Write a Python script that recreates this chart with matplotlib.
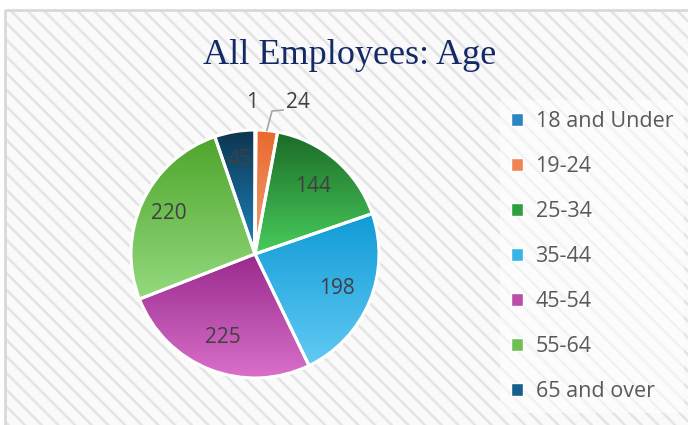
import numpy as np
import matplotlib.pyplot as plt
from matplotlib.patches import Rectangle, Patch
from matplotlib.colors import to_rgb

categories = ["18 and Under", "19-24", "25-34", "35-44", "45-54", "55-64", "65 and over"]
employees = [1, 24, 144, 198, 225, 220, 45]
# gradient colours per slice, top -> bottom
top_colors = ["#1b6fa6", "#e8692c", "#1c6b27", "#109bd6", "#982a8c", "#4ea52c", "#0d3550"]
bottom_colors = ["#4aa3dc", "#f2a27c", "#48cc5c", "#62caf4", "#da70ca", "#94da7e", "#1d86c0"]
legend_colors = ["#2a85c0", "#ee8550", "#2f9e3e", "#38b4e6", "#bb4caa", "#6fc054", "#15608c"]

plt.rcParams["hatch.linewidth"] = 1.8
W, H = 688, 425
fig = plt.figure(figsize=(W / 100, H / 100), dpi=100, facecolor="white")

# hatched chart area
bg = Rectangle((5 / W, 0), 1 - 5 / W, 1 - 10 / H, transform=fig.transFigure,
               facecolor="#fafafa", edgecolor="#e4e4e4", hatch="\\\\", linewidth=0, zorder=0)
fig.add_artist(bg)
fig.add_artist(plt.Line2D([5 / W, 5 / W, 1], [0, 1 - 10 / H, 1 - 10 / H], transform=fig.transFigure,
                          color="#d9d9d9", linewidth=2, zorder=1))

fig.text(350 / W, 1 - 55 / H, "All Employees: Age", ha="center", va="center",
         fontsize=26, family="Liberation Serif", color="#142a66")

cx, cy, r = 255, 254, 124
ax = fig.add_axes([(cx - r) / W, (H - cy - r) / H, 2 * r / W, 2 * r / H])
wedges, _ = ax.pie(employees, colors=legend_colors, startangle=90, counterclock=False,
                   wedgeprops=dict(edgecolor="white", linewidth=2.2))

for w, c0, c1 in zip(wedges, top_colors, bottom_colors):
    ext = w.get_path().get_extents()
    t = np.linspace(0, 1, 256)[:, None]
    grad = (1 - t) * np.array(to_rgb(c0)) + t * np.array(to_rgb(c1))
    im = ax.imshow(grad[:, None, :], extent=[ext.x0, ext.x1, ext.y0, ext.y1],
                   origin="upper", aspect="auto", zorder=1, interpolation="bilinear")
    im.set_clip_path(w)
    w.set_facecolor("none")
    w.set_zorder(2)

ax.set_xlim(-1, 1)
ax.set_ylim(-1, 1)
ax.set_aspect("equal")
ax.axis("off")

# data labels
total = sum(employees)
start = 0.0
label_kw = dict(fontsize=15, family="Open Sans", color="#404040", ha="center", va="center")
for i, v in enumerate(employees):
    mid = np.deg2rad((start + v / 2) / total * 360)
    start += v
    if i == 0:
        ax.text(-0.025, 1.225, str(v), **label_kw)
    elif i == 1:
        x0, y0 = np.sin(mid), np.cos(mid)
        xs = [x0, 0.137, 0.226]
        ys = [y0, 1.153, 1.161]
        ax.plot(xs, ys, color="#a6a6a6", linewidth=1.2, clip_on=False, zorder=3)
        ax.text(0.345, 1.225, str(v), **label_kw)
    else:
        rr = 0.72 if i < 5 else 0.77
        ax.text(rr * np.sin(mid), rr * np.cos(mid), str(v), **label_kw)

handles = [Patch(facecolor=c, edgecolor="white", linewidth=1.0) for c in legend_colors]
leg = fig.legend(handles, categories, loc="upper left", bbox_to_anchor=(500 / W, 1 - 100 / H),
                 frameon=True, facecolor="white", framealpha=0.55, edgecolor="none", fancybox=False,
                 prop=dict(family="Open Sans", size=15.5), labelcolor="#595959",
                 handlelength=0.55, handleheight=0.55, handletextpad=0.6, labelspacing=1.12,
                 borderpad=0.5, borderaxespad=0)

fig.savefig("out.png", dpi=100, facecolor="white")
